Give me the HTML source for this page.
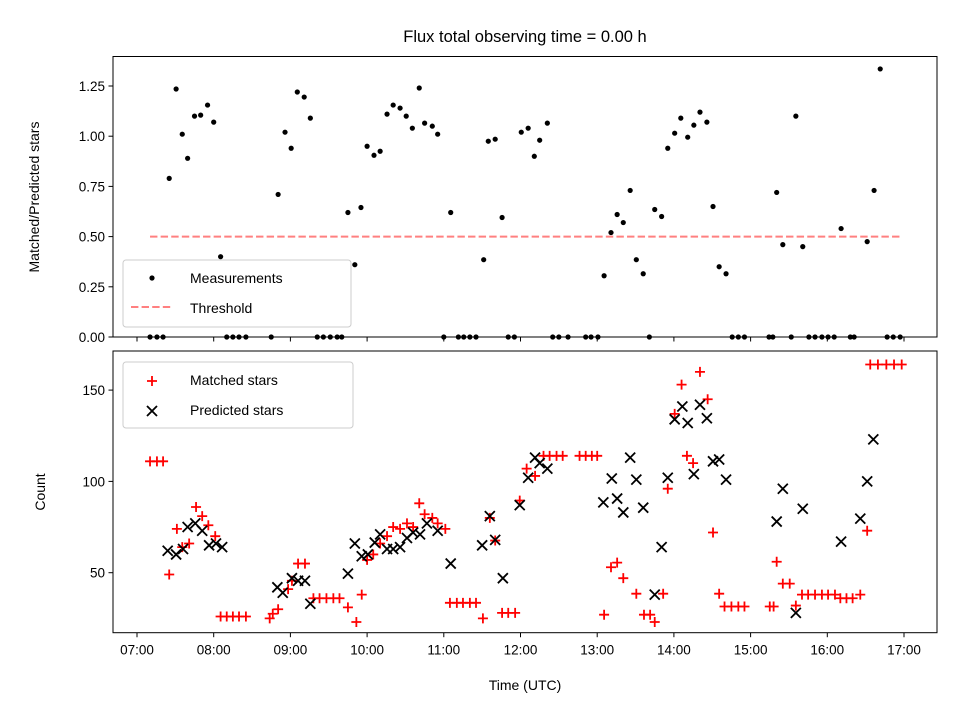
<!DOCTYPE html>
<html><head><meta charset="utf-8"><style>
html,body{margin:0;padding:0;background:#fff}
svg{display:block;font-family:"Liberation Sans","DejaVu Sans",sans-serif}
</style></head><body>
<svg id="fig" width="960" height="720" viewBox="0 0 960 720">
<rect width="960" height="720" fill="#fff"/>
<text x="525" y="42" font-size="16.5" text-anchor="middle">Flux total observing time = 0.00 h</text>
<g id="topPanel"></g>
<g id="botPanel"></g>
<text x="525" y="690" font-size="14" text-anchor="middle">Time (UTC)</text>
<text transform="translate(39,197) rotate(-90)" font-size="14" text-anchor="middle">Matched/Predicted stars</text>
<text transform="translate(45,492) rotate(-90)" font-size="14" text-anchor="middle">Count</text>
</svg>
<script>
// ---- data ----
const ratioTimes=[7.42,7.51,7.59,7.66,7.75,7.83,7.92,8.00,8.09,8.84,8.93,9.01,9.09,9.18,9.26,9.75,9.84,9.92,10.00,10.09,10.17,10.26,10.34,10.43,10.51,10.59,10.68,10.75,10.85,10.92,11.09,11.52,11.58,11.67,11.76,12.01,12.10,12.18,12.25,12.35,13.09,13.18,13.26,13.34,13.43,13.51,13.60,13.75,13.84,13.92,14.01,14.09,14.18,14.26,14.34,14.43,14.51,14.59,14.68,15.34,15.42,15.59,15.68,16.18,16.52,16.61,16.69];
const ratioValues=[0.79,1.235,1.01,0.89,1.10,1.105,1.155,1.07,0.40,0.71,1.02,0.94,1.22,1.195,1.09,0.62,0.36,0.645,0.95,0.905,0.925,1.11,1.155,1.14,1.10,1.04,1.24,1.065,1.05,1.01,0.62,0.385,0.975,0.985,0.595,1.02,1.04,0.90,0.98,1.065,0.305,0.52,0.61,0.57,0.73,0.385,0.315,0.635,0.60,0.94,1.015,1.09,0.995,1.055,1.12,1.07,0.65,0.35,0.315,0.72,0.46,1.10,0.45,0.54,0.475,0.73,1.335];
const zeroTimes=[7.17,7.26,7.34,8.17,8.25,8.33,8.42,8.75,9.35,9.43,9.52,9.61,9.67,11.00,11.19,11.26,11.34,11.42,11.84,11.92,12.42,12.50,12.62,12.85,12.92,13.01,13.68,14.76,14.84,14.92,15.24,15.29,15.53,15.76,15.84,15.93,16.01,16.09,16.30,16.35,16.78,16.86,16.95];
const threshold=[0.5];
const thresholdRange=[7.17,16.95];
const matchedTimes=[7.17,7.26,7.34,7.42,7.52,7.59,7.68,7.77,7.85,7.93,8.02,8.09,8.17,8.25,8.33,8.42,8.73,8.77,8.84,8.97,9.02,9.10,9.19,9.30,9.38,9.47,9.56,9.64,9.75,9.86,9.93,10.00,10.08,10.17,10.26,10.34,10.43,10.52,10.60,10.68,10.75,10.85,10.92,11.02,11.08,11.17,11.25,11.34,11.42,11.51,11.60,11.67,11.76,11.84,11.93,11.99,12.08,12.19,12.30,12.38,12.47,12.55,12.77,12.85,12.93,13.00,13.09,13.18,13.26,13.34,13.51,13.61,13.69,13.75,13.86,13.92,14.01,14.10,14.17,14.25,14.34,14.44,14.51,14.59,14.66,14.75,14.84,14.92,15.25,15.30,15.34,15.42,15.51,15.59,15.67,15.75,15.84,15.93,16.01,16.10,16.17,16.25,16.33,16.43,16.52,16.56,16.66,16.77,16.87,16.97];
const matchedValues=[111,111,111,49,74,64,66,86,81,76,70,26,26,26,26,26,25,27.5,30,41,45.6,55,55,36,36,36,36,36,31,23,38,57,60,66,70,75,74,77,75,88,82,80,77,74,33.5,33.5,33.5,33.5,33.5,25,80,67.6,28,28,28,89.5,107,103,114,114,114,114,114,114,114,114,27,53,55.5,47,38.5,27,27,23,38.5,96,137,153,114,110,160,145,72,38.5,31.5,31.5,31.5,31.5,31.5,31.5,56,44,44,32,38,38,38,38,38,38,36,36,36,38,73,164,164,164,164,164];
const predictedTimes=[7.40,7.51,7.60,7.66,7.76,7.85,7.94,8.03,8.11,8.83,8.90,9.02,9.10,9.19,9.26,9.75,9.84,9.93,10.01,10.10,10.17,10.26,10.34,10.43,10.52,10.60,10.69,10.78,10.92,11.09,11.50,11.60,11.67,11.77,11.99,12.10,12.19,12.25,12.35,13.08,13.19,13.26,13.34,13.43,13.51,13.60,13.75,13.84,13.92,14.01,14.11,14.18,14.26,14.34,14.43,14.51,14.59,14.68,15.34,15.42,15.59,15.68,16.18,16.43,16.52,16.60];
const predictedValues=[62,60,63,75,77,73,65,66,64,42,39,47,45.6,45.6,33,49.5,66,59,60,66.5,71,63,63,64,69,72,71,77,73,55,65,81,68,47,87,102,113,110,107,88.5,101.6,90.6,83,113,101,85.6,38,64,102,134,141,132,104,142,134.6,111,112,101,78,96,28,85,67,79.6,100,123];
const xTickHours=[7,8,9,10,11,12,13,14,15,16,17];
const xTickLabels=["07:00","08:00","09:00","10:00","11:00","12:00","13:00","14:00","15:00","16:00","17:00"];
const topTicks=[0,0.25,0.5,0.75,1.0,1.25];
const topTickLabels=["0.00","0.25","0.50","0.75","1.00","1.25"];
const botTicks=[50,100,150];
const botTickLabels=["50","100","150"];

// ---- scales ----
const L=113,R=937;
const T1=56.5,B1=337,T2=351,B2=632.7;
const xs=h=>137+(h-7)*76.7;
const ys1=v=>337-v*200.8;
const ys2=v=>572.7-(v-50)*1.826;
const NS="http://www.w3.org/2000/svg";
function mk(tag,attrs,parent){const e=document.createElementNS(NS,tag);for(const k in attrs)e.setAttribute(k,attrs[k]);parent.appendChild(e);return e;}
const gTop=document.getElementById('topPanel'),gBot=document.getElementById('botPanel');

function frame(g,T,B,name){
  const r=mk('rect',{x:L,y:T,width:R-L,height:B-T,fill:'none',stroke:'#000','stroke-width':1},g);
  
  
  xTickHours.forEach((h,i)=>{
    const t=mk('line',{x1:xs(h),x2:xs(h),y1:B,y2:B+4.5,stroke:'#000','stroke-width':1},g);
    
    
  });
}
frame(gTop,T1,B1,'top-plot-frame');
frame(gBot,T2,B2,'bottom-plot-frame');
xTickHours.forEach((h,i)=>{
  const t=mk('text',{x:xs(h),y:B2+22,'font-size':13.5,'text-anchor':'middle'},gBot);
  t.textContent=xTickLabels[i];
  
  
});
topTicks.forEach((v,i)=>{
  mk('line',{x1:L-4.5,x2:L,y1:ys1(v),y2:ys1(v),stroke:'#000'},gTop);
  const t=mk('text',{x:L-8,y:ys1(v)+5,'font-size':13.5,'text-anchor':'end'},gTop);
  t.textContent=topTickLabels[i];
  
  
});
botTicks.forEach((v,i)=>{
  mk('line',{x1:L-4.5,x2:L,y1:ys2(v),y2:ys2(v),stroke:'#000'},gBot);
  const t=mk('text',{x:L-8,y:ys2(v)+5,'font-size':13.5,'text-anchor':'end'},gBot);
  t.textContent=botTickLabels[i];
  
  
});

const th=mk('line',{x1:xs(thresholdRange[0]),x2:xs(thresholdRange[1]),y1:ys1(threshold[0]),y2:ys1(threshold[0]),stroke:'#ff8080','stroke-width':2,'stroke-dasharray':'7.4,3.2'},gTop);



function dot(h,v){
  const c=mk('circle',{cx:xs(h),cy:ys1(v),r:2.6,fill:'#000'},gTop);
  
  
}
ratioTimes.forEach((h,i)=>dot(h,ratioValues[i]));
zeroTimes.forEach(h=>dot(h,0));

const lg1=mk('g',{},gTop);


mk('rect',{x:123,y:260,width:228,height:67,rx:3,fill:'#fff','fill-opacity':0.8,stroke:'#ccc'},lg1);
mk('circle',{cx:152,cy:278,r:2.6,fill:'#000'},lg1);
let t=mk('text',{x:190,y:283,'font-size':14},lg1);t.textContent='Measurements';
mk('line',{x1:131,x2:171,y1:307,y2:307,stroke:'#ff8080','stroke-width':2,'stroke-dasharray':'7.4,3.2'},lg1);
t=mk('text',{x:190,y:313,'font-size':14},lg1);t.textContent='Threshold';

function plus(g,x,y){mk('path',{d:`M${x-5},${y}H${x+5}M${x},${y-5}V${y+5}`,stroke:'#ff0000','stroke-width':1.8,fill:'none'},g);}
function cross(g,x,y){mk('path',{d:`M${x-5},${y-5}L${x+5},${y+5}M${x-5},${y+5}L${x+5},${y-5}`,stroke:'#000','stroke-width':1.8,fill:'none'},g);}
matchedTimes.forEach((h,i)=>{
  const g=mk('g',{},gBot);
  
  
  plus(g,xs(h),ys2(matchedValues[i]));
});
predictedTimes.forEach((h,i)=>{
  const g=mk('g',{},gBot);
  
  
  cross(g,xs(h),ys2(predictedValues[i]));
});

const lg2=mk('g',{},gBot);


mk('rect',{x:123,y:362,width:230,height:66,rx:3,fill:'#fff','fill-opacity':0.8,stroke:'#ccc'},lg2);
plus(lg2,152,381);
t=mk('text',{x:190,y:385,'font-size':14},lg2);t.textContent='Matched stars';
cross(lg2,152,411);
t=mk('text',{x:190,y:415,'font-size':14},lg2);t.textContent='Predicted stars';
</script>
</body></html>
